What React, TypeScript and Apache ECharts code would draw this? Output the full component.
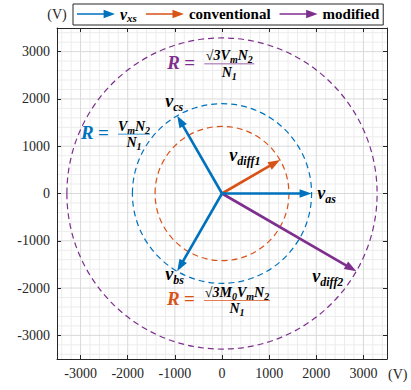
import React, { useEffect, useRef } from "react";
import * as echarts from "echarts";

// Axis range and ticks (V)
const AXIS_MIN = -3500;
const AXIS_MAX = 3500;
const MAJOR_TICKS = [-3000, -2000, -1000, 0, 1000, 2000, 3000];
const MINOR_STEP = 200;

// Phase voltage vectors v_as, v_bs, v_cs (V)
const PHASE_LABELS = ["as", "bs", "cs"];
const PHASE_X = [1900, -950, -950];
const PHASE_Y = [0, -1645, 1645];

// Differential voltage vectors (V)
const DIFF1 = [1230, 710]; // conventional
const DIFF2 = [2850, -1645]; // modified

// Locus radii (V)
const RADIUS_VXS = 1900;
const RADIUS_CONVENTIONAL = 1420;
const RADIUS_MODIFIED = 3290;

const BLUE = "#0072BD";
const ORANGE = "#D95319";
const PURPLE = "#7E2F8E";
const LOCUS_COLORS = [BLUE, ORANGE, PURPLE];
const AXIS_COLOR = "#262626";
const SERIF = "Liberation Serif";

const minorTicks: number[] = [];
for (let v = AXIS_MIN + 100; v < AXIS_MAX; v += MINOR_STEP) {
  if (v % 1000 !== 0) minorTicks.push(v);
}

const gridData = [
  ...minorTicks.map((v) => [v, 0]),
  ...MAJOR_TICKS.map((v) => [v, 1]),
];

const ARROW_ICON =
  "path://M0,4.1 L28,4.1 L28,0.5 L40,5 L28,9.5 L28,5.9 L0,5.9 Z";

function renderArrow(params: any, api: any) {
  const color = api.visual("color");
  const p0 = api.coord([0, 0]);
  const p1 = api.coord([api.value(0), api.value(1)]);
  const dx = p1[0] - p0[0];
  const dy = p1[1] - p0[1];
  const len = Math.hypot(dx, dy);
  const ux = dx / len;
  const uy = dy / len;
  const HL = 12;
  const HW = 4.3;
  const bx = p1[0] - ux * HL;
  const by = p1[1] - uy * HL;
  return {
    type: "group",
    children: [
      {
        type: "line",
        shape: { x1: p0[0], y1: p0[1], x2: bx + ux * 2, y2: by + uy * 2 },
        style: { stroke: color, lineWidth: 2.6 },
      },
      {
        type: "polygon",
        shape: {
          points: [
            [p1[0], p1[1]],
            [bx - uy * HW, by + ux * HW],
            [bx + uy * HW, by - ux * HW],
          ],
        },
        style: { fill: color },
      },
    ],
  };
}

function renderCircle(params: any, api: any) {
  const c = api.coord([0, 0]);
  const r = api.value(0);
  const edge = api.coord([r, r]);
  const rx = Math.abs(edge[0] - c[0]);
  const ry = Math.abs(edge[1] - c[1]);
  return {
    type: "ellipse",
    shape: { cx: c[0], cy: c[1], rx, ry },
    style: {
      fill: "none",
      stroke: LOCUS_COLORS[api.value(1)],
      lineWidth: 1.2,
      lineDash: [6, 4],
    },
  };
}

function renderGridLine(params: any, api: any) {
  const v = api.value(0);
  const major = api.value(1) === 1;
  const stroke = major ? "#d9d9d9" : "#ececec";
  const a = api.coord([v, AXIS_MIN]);
  const b = api.coord([v, AXIS_MAX]);
  const c = api.coord([AXIS_MIN, v]);
  const d = api.coord([AXIS_MAX, v]);
  return {
    type: "group",
    z2: major ? 2 : 1,
    children: [
      { type: "line", shape: { x1: a[0], y1: a[1], x2: b[0], y2: b[1] }, style: { stroke, lineWidth: 1 } },
      { type: "line", shape: { x1: c[0], y1: c[1], x2: d[0], y2: d[1] }, style: { stroke, lineWidth: 1 } },
    ],
  };
}

function mathRich(size: number, sub: number, color: string, drop: number) {
  const base = {
    fontFamily: SERIF,
    fontStyle: "italic",
    fontWeight: "bold",
    color,
    verticalAlign: "top",
  };
  return {
    v: { ...base, fontSize: size, lineHeight: size },
    s: { ...base, fontSize: sub, lineHeight: sub, padding: [drop, 0, 0, 0] },
    r: { ...base, fontStyle: "normal", fontSize: size, lineHeight: size },
  };
}

function axisDef(position: string, showLabel: boolean, extra: any = {}) {
  return {
    type: "value",
    position,
    min: AXIS_MIN,
    max: AXIS_MAX,
    splitNumber: 7,
    axisLine: { show: true, onZero: false, lineStyle: { color: AXIS_COLOR, width: 1 } },
    axisTick: { show: true, inside: true, length: 4, lineStyle: { color: AXIS_COLOR } },
    axisLabel: {
      show: showLabel,
      fontFamily: SERIF,
      fontSize: 14,
      color: AXIS_COLOR,
      margin: 7,
      showMinLabel: false,
      showMaxLabel: false,
      formatter: (v: number) => String(v),
    },
    splitLine: { show: false },
    ...extra,
  };
}

export default function App() {
  const ref = useRef<HTMLDivElement>(null);

  useEffect(() => {
    if (!ref.current) return;
    const chart = echarts.init(ref.current, undefined, { renderer: "svg" });

    chart.setOption({
      animation: false,
      backgroundColor: "#ffffff",
      grid: { left: 57, top: 28, width: 330, height: 331, outerBoundsMode: "none", containLabel: false },
      xAxis: [axisDef("bottom", true), axisDef("top", false)],
      yAxis: [
        axisDef("left", true, {
          name: "(V)",
          nameLocation: "end",
          nameGap: 7,
          nameTextStyle: { fontFamily: SERIF, fontSize: 14, color: AXIS_COLOR, align: "center" },
        }),
        axisDef("right", false),
      ],
      legend: {
        left: 73,
        top: 4,
        padding: [2, 4, 2, 4],
        itemGap: 9,
        itemWidth: 38,
        itemHeight: 10,
        borderColor: AXIS_COLOR,
        borderWidth: 1,
        backgroundColor: "#ffffff",
        selectedMode: false,
        data: [
          { name: "vxs", icon: ARROW_ICON, itemStyle: { color: BLUE } },
          { name: "conventional", icon: ARROW_ICON, itemStyle: { color: ORANGE } },
          { name: "modified", icon: ARROW_ICON, itemStyle: { color: PURPLE } },
        ],
        formatter: (name: string) => (name === "vxs" ? "{v|v}{s|xs}" : name),
        textStyle: {
          fontFamily: SERIF,
          fontWeight: "bold",
          fontSize: 15,
          color: "#000",
          rich: mathRich(16, 11, "#000", 6),
        },
      },
      series: [
        {
          name: "grid",
          type: "custom",
          silent: true,
          z: 0,
          renderItem: renderGridLine,
          data: gridData,
        },
        {
          name: "loci",
          type: "custom",
          silent: true,
          z: 1,
          renderItem: renderCircle,
          data: [
            [RADIUS_VXS, 0],
            [RADIUS_CONVENTIONAL, 1],
            [RADIUS_MODIFIED, 2],
          ],
        },
        {
          name: "modified",
          type: "custom",
          z: 3,
          itemStyle: { color: PURPLE },
          renderItem: renderArrow,
          data: [DIFF2],
        },
        {
          name: "conventional",
          type: "custom",
          z: 3,
          itemStyle: { color: ORANGE },
          renderItem: renderArrow,
          data: [DIFF1],
        },
        {
          name: "vxs",
          type: "custom",
          z: 4,
          itemStyle: { color: BLUE },
          renderItem: renderArrow,
          data: PHASE_X.map((x, i) => [x, PHASE_Y[i]]),
        },
      ],
    });

    const px = (p: number[]) => chart.convertToPixel({ gridIndex: 0 }, p) as number[];

    // vector labels, anchored at the top-left of each label (data coordinates)
    const vecLabels: { sub: string; at: number[] }[] = [
      { sub: PHASE_LABELS[2], at: [-1203, 2136] },
      { sub: PHASE_LABELS[1], at: [-1203, -1510] },
      { sub: PHASE_LABELS[0], at: [2022, 211] },
      { sub: "diff1", at: [155, 1015] },
      { sub: "diff2", at: [1915, -1544] },
    ];

    const labelEls = vecLabels.map((l) => {
      const p = px(l.at);
      return {
        type: "text",
        x: p[0],
        y: p[1],
        z: 20,
        style: {
          text: `{v|v}{s|${l.sub}}`,
          rich: mathRich(18, 12, "#000", 9),
          align: "left",
          verticalAlign: "top",
        },
      };
    });

    // R = numerator / denominator, anchored at the left of "R"
    const formula = (at: number[], num: string, fracW: number, color: string) => {
      const p = px(at);
      const rich = mathRich(14, 10, color, 6);
      const fx = 37 + fracW / 2;
      return {
        type: "group",
        x: p[0],
        y: p[1],
        z: 20,
        children: [
          {
            type: "text",
            x: 0,
            y: 0,
            style: { text: "R", font: `italic bold 19px ${SERIF}`, fill: color, align: "left", verticalAlign: "middle" },
          },
          {
            type: "text",
            x: 17,
            y: 0,
            style: { text: "=", font: `bold 19px ${SERIF}`, fill: color, align: "left", verticalAlign: "middle" },
          },
          {
            type: "text",
            x: fx,
            y: 0.5,
            style: { text: num, rich, align: "center", verticalAlign: "bottom" },
          },
          {
            type: "rect",
            shape: { x: 37, y: 1.2, width: fracW, height: 0.9 },
            style: { fill: color },
          },
          {
            type: "text",
            x: fx,
            y: 3,
            style: { text: "{v|N}{s|1}", rich, align: "center", verticalAlign: "top" },
          },
        ],
      };
    };

    const xUnit = px([AXIS_MAX, AXIS_MIN]);

    chart.setOption({
      graphic: {
        elements: [
          ...labelEls,
          formula([-1160, 2777], "{r|√}{v|3V}{s|m}{v|N}{s|2}", 50, PURPLE),
          formula([-2991, 1290], "{v|V}{s|m}{v|N}{s|2}", 32, BLUE),
          formula([-1167, -2230], "{r|√}{v|3M}{s|0}{v|V}{s|m}{v|N}{s|2}", 66, ORANGE),
          {
            type: "text",
            x: xUnit[0] + 1,
            y: xUnit[1] + 15,
            style: { text: "(V)", font: `14px ${SERIF}`, fill: AXIS_COLOR, align: "left", verticalAlign: "middle" },
          },
        ],
      },
    });

    return () => chart.dispose();
  }, []);

  return (
    <div
      ref={ref}
      style={{ position: "fixed", left: 0, top: 0, width: 411, height: 390, background: "#fff" }}
    />
  );
}
